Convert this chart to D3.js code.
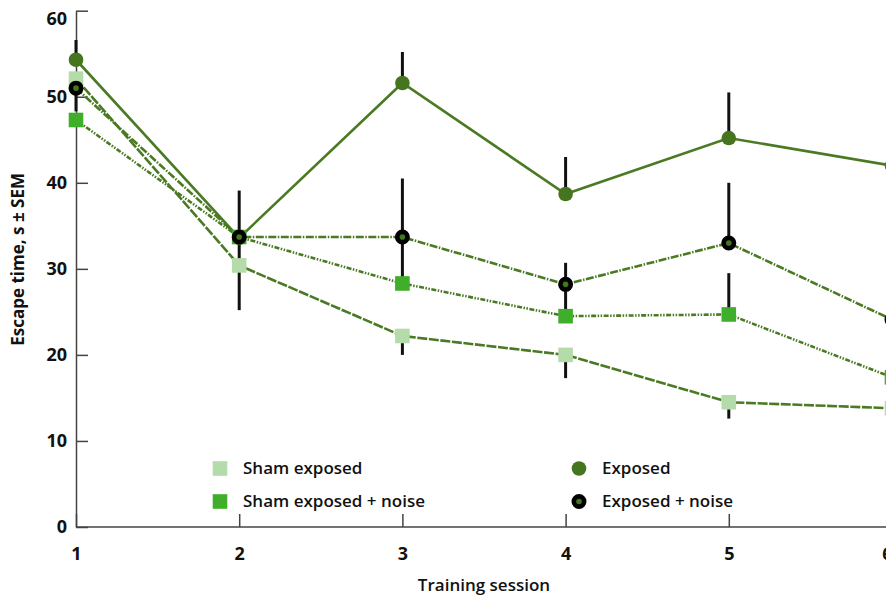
<!DOCTYPE html>
<html>
<head>
<meta charset="utf-8">
<script src="https://cdn.jsdelivr.net/npm/d3@7"></script>
<style>
    body { margin: 0; background: #fff; }
    text { font-family: 'Open Sans', 'Noto Sans', sans-serif; fill: #111; }
    .axis path, .axis line { stroke: #444; stroke-width: 1.5; }
    .axis text { font-size: 18px; font-weight: 700; }
</style>
</head>
<body>
<svg id="chart" width="886" height="597"></svg>
<script>
// training sessions and group means (s)
const sessions = [1, 2, 3, 4, 5, 6]
const shamExposed = [52.1, 30.4, 22.2, 20.0, 14.5, 13.8]
const shamNoise = [47.3, 33.7, 28.3, 24.5, 24.7, 17.4]
const exposed = [54.3, 33.6, 51.6, 38.7, 45.2, 42.0]
const exposedNoise = [51.0, 33.7, 33.7, 28.2, 33.0, 24.1]

// end of the one-sided SEM bar for each point (null = not drawn)
const shamExposedErr = [null, null, 20.0, 17.3, 12.6, null]
const shamNoiseErr = [null, 25.2, 33.0, 27.5, 29.5, null]
const exposedErr = [56.6, null, 55.2, 43.0, 50.5, null]
const exposedNoiseErr = [48.3, 39.1, 40.5, 30.7, 40.0, null]

const yTicks = [0, 10, 20, 30, 40, 50, 60]

function main() {
    let svg = d3.select('#chart'),
        lineColor = '#4a7a23'

    let x = d3.scaleLinear().domain([1, 6]).range([76, 892]),
        y = d3.scaleLinear().domain([0, 60]).range([527, 10.7])

    let series = [
        {id: 'Sham exposed', values: shamExposed, err: shamExposedErr, shape: 'square', fill: '#b4dcaa', dash: '10,1.6'},
        {id: 'Sham exposed + noise', values: shamNoise, err: shamNoiseErr, shape: 'square', fill: '#3fae2a', dash: '5,1.5,1.5,1.5,1.5,1.5'},
        {id: 'Exposed', values: exposed, err: exposedErr, shape: 'circle', fill: '#45761f', dash: null},
        {id: 'Exposed + noise', values: exposedNoise, err: exposedNoiseErr, shape: 'ring', fill: '#45761f', dash: '8,1.5,1.5,1.5'}
    ]
    series.forEach(s => {
        s.points = sessions.map((t, i) => ({t: t, v: s.values[i], e: s.err[i]}))
    })

    // axes
    svg.append('g')
        .attr('class', 'axis')
        .attr('transform', 'translate(' + x(1) + ',0)')
        .call(d3.axisLeft(y).tickValues(yTicks).tickSize(-12).tickSizeOuter(0).tickPadding(9))
        .call(g => g.selectAll('text').attr('fill', '#111'))
        .call(g => g.selectAll('.tick').filter(d => d === 60).select('text').attr('dy', '0.75em'))

    svg.append('g')
        .attr('class', 'axis')
        .attr('transform', 'translate(0,' + y(0) + ')')
        .call(d3.axisBottom(x).tickValues(sessions).tickFormat(d3.format('d'))
            .tickSize(-13).tickSizeOuter(0).tickPadding(20))
        .call(g => g.select('.domain').attr('d', 'M' + x(1) + ',0H886'))
        .call(g => g.selectAll('.tick').filter(d => d === 6).select('text').attr('x', -5))
        .selectAll('text').attr('fill', '#111')

    svg.append('text')
        .attr('transform', 'rotate(-90)')
        .attr('x', -y(31.1))
        .attr('y', 24)
        .attr('text-anchor', 'middle')
        .style('font-size', '17px')
        .style('font-weight', 700)
        .text('Escape time, s ± SEM')

    svg.append('text')
        .attr('x', (x(3) + x(4)) / 2)
        .attr('y', 591)
        .attr('text-anchor', 'middle')
        .style('font-size', '17px')
        .style('font-weight', 600)
        .text('Training session')

    // error bars
    series.forEach(s => {
        svg.selectAll(null)
            .data(s.points.filter(d => d.e !== null))
            .enter().append('line')
            .attr('x1', d => x(d.t))
            .attr('x2', d => x(d.t))
            .attr('y1', d => y(d.v))
            .attr('y2', d => y(d.e))
            .attr('stroke', '#111')
            .attr('stroke-width', 3)
    })

    let line = d3.line()
        .x(d => x(d.t))
        .y(d => y(d.v))

    svg.selectAll('.series')
        .data(series)
        .enter().append('path')
        .attr('class', 'series')
        .attr('d', d => line(d.points))
        .attr('fill', 'none')
        .attr('stroke', lineColor)
        .attr('stroke-width', 2.6)
        .attr('stroke-dasharray', d => d.dash)

    function drawMarker(g, shape, fill) {
        if (shape === 'square') {
            g.append('rect')
                .attr('x', -7.3).attr('y', -7.3)
                .attr('width', 14.6).attr('height', 14.6)
                .attr('fill', fill)
        } else if (shape === 'circle') {
            g.append('circle').attr('r', 7.3).attr('fill', fill)
        } else {
            g.append('circle').attr('r', 6).attr('fill', '#000')
                .attr('stroke', '#000').attr('stroke-width', 3)
            g.append('circle').attr('r', 2.8).attr('fill', fill)
        }
    }

    series.forEach(s => {
        s.points.forEach(p => {
            let g = svg.append('g').attr('transform', 'translate(' + x(p.t) + ',' + y(p.v) + ')')
            drawMarker(g, s.shape, s.fill)
        })
    })

    // legend
    let legendPos = [[220, 468.5], [220, 501.5], [579, 468.5], [579, 501.5]]
    series.forEach((s, i) => {
        let g = svg.append('g').attr('transform', 'translate(' + legendPos[i][0] + ',' + legendPos[i][1] + ')')
        drawMarker(g, s.shape, s.fill)
        g.append('text')
            .attr('x', 23)
            .attr('dy', '0.35em')
            .style('font-size', '17px')
            .style('font-weight', 600)
            .text(s.id)
    })
}

main()
</script>
</body>
</html>
